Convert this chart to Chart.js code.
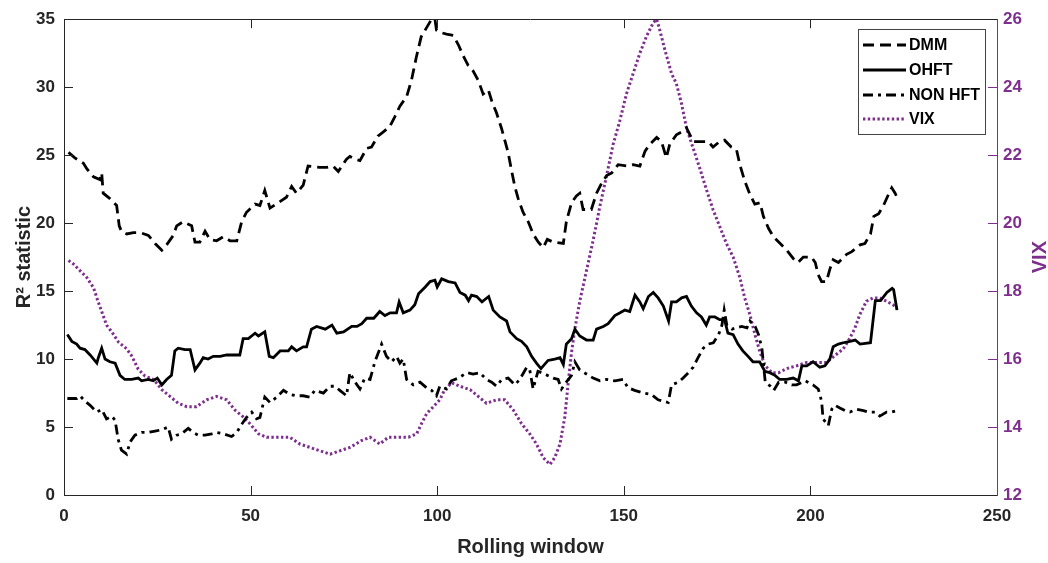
<!DOCTYPE html>
<html><head><meta charset="utf-8">
<script src="https://cdn.jsdelivr.net/npm/chart.js@4.4.1/dist/chart.umd.min.js"></script>
<style>html,body{margin:0;padding:0;background:#fff;overflow:hidden}</style>
</head><body>
<canvas id="c" width="1048" height="563" style="width:1048px;height:563px;display:block"></canvas>
<script>
// ---- tick labels ----
const xTicks = [0, 50, 100, 150, 200, 250];
const leftTicks = [0, 5, 10, 15, 20, 25, 30, 35];
const rightTicks = [12, 14, 16, 18, 20, 22, 24, 26];
const seriesNames = ['DMM', 'OHFT', 'NON HFT', 'VIX'];

// ---- DMM (R^2, left axis) ----
const dmmX = [1.2,2.9,5.2,6.1,7.9,9.6,10.1,10.5,12.3,14.1,14.8,15.4,16.8,18.6,20.4,22.6,24.4,26.2,27.5,29.3,30.2,31.9,34.2,35.1,36.4,37.8,39.1,40.9,42.7,44.5,46.3,47.6,48.9,51.2,52.5,53.8,55.2,57.4,59.6,61.0,62.3,64.1,65.4,68.5,70.4,72.1,73.5,75.7,76.6,78.0,79.3,81.1,82.4,84.1,85.5,87.3,88.6,90.0,91.8,93.1,94.4,95.7,97.2,98.5,99.4,99.8,101.2,102.5,104.3,105.7,107.0,108.3,109.6,111.0,112.3,113.7,114.6,115.9,117.2,118.1,119.0,119.9,120.8,121.7,123.0,124.4,125.7,127.1,128.4,129.5,131.1,133.8,134.6,136.0,137.3,138.2,139.1,141.3,142.7,144.0,145.4,146.8,148.5,150.8,152.5,154.3,155.7,157.0,158.8,160.1,161.4,162.3,164.1,165.4,166.8,168.6,170.4,172.6,173.9,175.7,177.0,178.8,180.2,181.1,182.4,183.8,185.1,186.5,187.4,188.8,190.1,191.9,193.7,195.4,196.7,198.1,200.3,201.3,202.1,203.0,204.3,205.2,206.1,207.5,209.7,211.1,213.3,214.6,216.1,217.0,218.3,219.6,220.9,221.8,222.7,223.2];
const dmmY = [25.2,24.8,24.4,24.0,23.4,23.2,23.7,22.2,21.8,21.3,19.8,19.4,19.2,19.3,19.3,19.1,18.5,18.0,18.4,19.1,19.8,20.1,19.8,18.6,18.6,19.4,18.8,18.7,19.0,18.7,18.7,20.1,20.8,21.4,21.3,22.4,21.1,21.5,21.9,22.7,22.2,22.8,24.2,24.1,24.1,24.2,23.8,24.7,24.9,24.7,24.6,25.5,25.6,26.4,26.7,27.1,27.8,28.6,29.3,30.5,32.2,33.7,34.4,35.0,35.0,34.2,34.0,33.9,33.8,33.1,32.3,31.6,31.2,30.5,29.5,29.8,29.0,28.1,27.0,26.1,25.2,23.9,22.7,21.8,20.8,20.1,19.2,18.6,18.2,18.8,18.6,18.5,20.1,21.5,22.0,22.2,21.0,21.0,22.2,22.9,23.5,23.7,24.3,24.2,24.3,24.2,25.3,25.8,26.3,26.0,24.8,25.8,26.5,26.7,27.0,26.0,26.0,26.0,25.6,26.0,26.1,25.6,25.4,24.3,23.1,22.1,21.4,21.5,20.5,19.6,19.0,18.5,18.0,17.4,17.1,17.5,17.5,17.1,16.2,15.7,15.7,16.6,17.3,17.1,17.7,17.9,18.4,18.5,19.2,20.5,20.7,21.3,22.1,22.6,22.2,21.9];

// ---- OHFT (R^2, left axis) ----
const ohftX = [0.9,2.1,3.4,4.3,5.6,7.0,8.8,9.2,10.1,11.0,12.3,13.7,15.0,16.3,18.1,19.9,20.8,22.6,23.9,25.0,26.2,27.5,28.8,29.7,30.6,32.4,33.8,35.1,36.4,37.3,38.6,40.0,41.8,43.6,45.4,47.1,48.0,49.4,51.2,52.1,53.8,55.0,56.1,57.9,60.1,61.0,62.3,64.1,65.0,66.3,67.7,70.0,71.8,73.1,74.9,77.1,78.5,79.8,81.1,83.0,84.6,86.0,87.4,89.1,89.8,90.9,92.7,94.0,95.0,96.8,98.1,99.4,100.0,101.2,103.0,104.8,106.1,107.5,108.4,109.2,110.6,112.0,113.8,115.0,116.8,118.6,119.5,121.3,122.6,124.0,125.3,126.6,127.8,129.7,131.5,132.9,133.8,134.6,136.0,136.9,138.2,140.0,141.8,142.7,144.5,145.8,147.6,149.0,150.3,151.6,153.0,154.3,155.2,156.6,157.9,159.2,160.6,162.0,162.8,164.1,165.5,166.8,168.1,169.5,170.8,172.1,173.0,174.4,175.7,177.0,177.9,179.3,180.6,181.9,183.3,184.6,186.4,187.8,189.1,190.5,191.8,193.6,195.4,196.8,197.7,199.0,200.7,202.5,203.9,205.2,206.1,207.5,208.8,210.6,212.0,213.3,216.1,217.4,218.8,220.5,221.9,222.3,223.2];
const ohftY = [11.8,11.3,11.1,10.8,10.7,10.3,9.7,10.1,10.8,10.0,9.8,9.7,8.8,8.5,8.5,8.6,8.4,8.5,8.4,8.6,8.1,8.5,8.8,10.6,10.8,10.7,10.7,9.2,9.7,10.1,10.0,10.2,10.2,10.3,10.3,10.3,11.5,11.5,11.9,11.7,12.0,10.2,10.1,10.6,10.6,10.9,10.6,10.9,10.9,12.2,12.4,12.2,12.5,11.9,12.0,12.4,12.4,12.6,13.0,13.0,13.5,13.2,13.4,13.4,14.2,13.4,13.6,14.0,14.8,15.3,15.7,15.8,15.3,15.9,15.7,15.6,14.9,14.7,14.3,14.7,14.6,14.2,14.6,13.6,13.1,12.8,12.0,11.5,11.3,10.9,10.2,9.7,9.3,9.9,10.0,10.1,9.6,11.1,11.5,12.2,11.7,11.4,11.4,12.2,12.4,12.6,13.2,13.4,13.6,13.5,14.7,14.2,13.7,14.6,14.9,14.5,13.9,12.8,14.2,14.2,14.5,14.6,13.9,13.4,13.1,12.5,13.1,13.1,12.9,12.9,11.9,11.8,11.1,10.6,10.2,9.8,9.8,9.1,9.0,8.8,8.5,8.5,8.6,8.4,9.5,9.5,9.8,9.4,9.5,10.0,10.9,11.1,11.2,11.3,11.4,11.1,11.2,14.3,14.3,14.9,15.2,15.1,13.6];

// ---- NON HFT (R^2, left axis) ----
const nonX = [0.9,3.4,4.3,5.6,7.0,8.8,10.1,11.4,12.8,13.7,14.5,15.4,16.8,17.7,19.0,20.8,22.6,24.4,26.2,27.9,28.8,30.2,31.5,33.3,34.6,36.0,37.8,39.6,40.9,42.7,44.9,46.3,47.6,48.9,50.3,51.6,52.5,53.8,55.2,57.0,58.8,60.5,62.3,64.1,65.9,67.2,69.5,71.3,72.6,73.9,75.7,76.6,78.0,79.3,80.6,82.0,83.3,85.1,86.4,87.8,89.1,90.0,90.9,91.8,93.6,95.4,97.1,98.5,99.8,100.7,102.5,103.8,105.7,107.9,109.6,111.4,113.2,114.6,115.9,117.3,119.0,120.8,122.1,124.0,124.8,125.7,127.0,128.8,131.1,132.4,133.3,134.6,136.0,136.9,138.2,140.0,141.8,143.6,145.4,147.6,149.8,151.1,152.9,155.2,157.4,159.2,161.9,162.8,164.6,165.9,167.3,168.6,169.9,171.3,172.6,174.0,175.4,176.3,176.9,177.6,179.0,180.2,181.6,183.0,183.8,185.2,186.1,187.0,187.9,189.3,190.2,191.5,193.3,195.0,196.3,198.6,200.7,202.1,203.0,203.4,204.8,205.7,206.6,207.9,209.3,210.6,212.4,214.2,215.5,217.3,218.6,220.4,221.8,223.2];
const nonY = [7.1,7.1,7.3,6.9,6.6,6.1,6.3,5.6,5.8,5.5,4.1,3.3,3.0,3.9,4.4,4.6,4.6,4.7,4.8,5.0,4.1,4.4,4.5,4.9,4.6,4.4,4.4,4.5,4.6,4.5,4.3,4.6,5.2,5.7,6.1,5.6,5.7,7.2,6.8,7.2,7.7,7.4,7.3,7.3,7.2,7.7,7.5,8.0,8.0,7.7,7.3,9.0,8.3,7.8,8.6,8.5,9.8,11.1,10.2,9.8,10.2,9.7,10.0,8.5,8.1,8.3,7.9,7.7,7.3,8.0,7.8,8.4,8.6,9.0,8.9,9.0,8.5,8.3,8.0,8.5,8.6,8.1,8.5,9.4,9.2,7.8,9.1,8.9,8.6,8.5,7.8,8.3,8.8,9.8,9.2,8.9,8.6,8.4,8.5,8.4,8.5,7.9,7.7,7.5,7.4,7.0,6.8,8.1,8.3,8.6,9.0,9.4,10.1,10.8,11.1,11.2,11.8,12.5,13.6,12.5,12.2,12.3,12.4,12.3,12.8,12.4,11.8,10.8,8.3,8.0,7.7,8.3,8.3,8.1,8.1,8.4,8.1,7.8,6.9,5.6,5.1,6.3,6.6,6.4,6.2,6.1,6.3,6.2,6.1,6.1,5.8,6.1,6.1,6.2];

// ---- VIX (right axis) ----
const vixX = [1.2,2.5,4.3,6.1,7.9,8.8,10.1,11.4,12.8,14.6,16.8,18.1,19.9,21.7,24.0,26.2,28.4,30.6,32.9,35.5,38.2,40.9,43.6,45.8,48.0,49.8,52.1,54.3,57.9,60.5,63.2,65.9,68.6,71.3,73.9,76.6,79.7,82.0,84.6,86.9,89.6,92.3,94.5,95.8,97.2,99.0,100.7,102.0,103.9,106.1,108.8,111.0,113.2,115.9,118.1,120.4,122.6,124.8,126.6,128.4,130.2,131.5,132.9,134.2,135.1,136.0,136.9,138.2,140.0,141.8,143.6,145.4,147.1,148.9,150.7,152.5,154.3,156.1,157.9,158.8,159.6,161.0,162.8,164.1,165.5,166.8,168.6,170.4,172.1,173.9,175.7,177.5,179.3,181.1,182.4,183.8,185.2,186.5,187.9,189.7,191.5,193.3,194.5,196.3,199.0,201.6,204.3,206.5,208.8,210.5,211.9,213.2,215.0,216.8,218.6,220.4,222.1,223.2];
const vixY = [18.9,18.8,18.6,18.4,18.1,17.8,17.4,17.0,16.8,16.5,16.3,16.1,15.7,15.5,15.4,15.1,14.9,14.7,14.6,14.6,14.8,14.9,14.8,14.5,14.3,14.1,13.8,13.7,13.7,13.7,13.5,13.4,13.3,13.2,13.3,13.4,13.6,13.7,13.5,13.7,13.7,13.7,13.8,14.1,14.4,14.6,14.8,15.1,15.3,15.2,15.1,14.9,14.7,14.8,14.8,14.5,14.1,13.8,13.5,13.1,12.9,13.1,13.5,14.3,15.3,16.2,16.9,17.7,18.6,19.5,20.5,21.4,22.3,23.0,23.8,24.4,25.0,25.5,25.9,26.0,25.7,25.1,24.4,24.1,23.5,22.8,22.2,21.6,21.0,20.4,19.9,19.4,19.0,18.4,17.8,17.3,16.7,16.2,15.8,15.6,15.6,15.7,15.75,15.8,15.9,15.9,15.9,16.1,16.3,16.6,16.9,17.3,17.7,17.8,17.8,17.7,17.6,17.5];

const pts = (xs, ys) => xs.map((x, i) => ({x: x, y: ys[i]}));

const FONT = "'Liberation Sans', Arial, Helvetica, sans-serif";
const AX = '#262626';
const PURPLE = '#7E2F8E';
Chart.defaults.font.family = FONT;

const styles = [
  {color: '#000', dash: [11, 6], width: 2.8},
  {color: '#000', dash: [], width: 2.8},
  {color: '#000', dash: [10, 5, 3, 5], width: 2.8},
  {color: PURPLE, dash: [2.4, 2.4], width: 3}
];

const decor = {
  id: 'decor',
  afterDraw(chart) {
    const {ctx, chartArea: a, scales} = chart;
    const TL = 9;
    ctx.save();
    ctx.lineWidth = 1;
    ctx.strokeStyle = AX;
    ctx.beginPath();
    ctx.moveTo(a.left, Math.round(a.top) + 0.5);
    ctx.lineTo(a.right, Math.round(a.top) + 0.5);
    xTicks.slice(1, -1).forEach(v => {
      const px = Math.round(scales.x.getPixelForValue(v)) + 0.5;
      ctx.moveTo(px, a.bottom); ctx.lineTo(px, a.bottom - TL);
      ctx.moveTo(px, a.top); ctx.lineTo(px, a.top + TL);
    });
    leftTicks.slice(1, -1).forEach(v => {
      const py = Math.round(scales.y.getPixelForValue(v)) + 0.5;
      ctx.moveTo(a.left, py); ctx.lineTo(a.left + TL, py);
    });
    ctx.stroke();
    ctx.strokeStyle = PURPLE;
    ctx.beginPath();
    rightTicks.slice(1, -1).forEach(v => {
      const py = Math.round(scales.y2.getPixelForValue(v)) + 0.5;
      ctx.moveTo(a.right, py); ctx.lineTo(a.right - TL, py);
    });
    ctx.stroke();

    // right axis title, reading bottom-to-top
    ctx.save();
    ctx.translate(1040, (a.top + a.bottom) / 2);
    ctx.rotate(-Math.PI / 2);
    ctx.fillStyle = PURPLE;
    ctx.font = 'bold 20px ' + FONT;
    ctx.textAlign = 'center';
    ctx.textBaseline = 'middle';
    ctx.fillText('VIX', 0, 0);
    ctx.restore();

    // legend
    const bx = 858.5, by = 29.5, bw = 127, bh = 105;
    ctx.fillStyle = '#fff';
    ctx.fillRect(bx, by, bw, bh);
    ctx.strokeStyle = '#444';
    ctx.lineWidth = 1;
    ctx.strokeRect(bx, by, bw, bh);
    const rows = [45, 70, 95, 119];
    ctx.font = 'bold 16px ' + FONT;
    ctx.textAlign = 'left';
    ctx.textBaseline = 'middle';
    seriesNames.forEach((name, i) => {
      const s = styles[i];
      ctx.beginPath();
      ctx.strokeStyle = s.color;
      ctx.lineWidth = s.width;
      ctx.setLineDash(s.dash);
      ctx.moveTo(863, rows[i]);
      ctx.lineTo(906, rows[i]);
      ctx.stroke();
      ctx.setLineDash([]);
      ctx.fillStyle = '#000';
      ctx.fillText(name, 909, rows[i] + 1);
    });
    ctx.restore();
  }
};

const datasets = [
  pts(dmmX, dmmY), pts(ohftX, ohftY), pts(nonX, nonY), pts(vixX, vixY)
].map((d, i) => ({
  label: seriesNames[i],
  data: d,
  borderColor: styles[i].color,
  borderWidth: styles[i].width,
  borderDash: styles[i].dash,
  pointRadius: 0,
  tension: 0,
  fill: false,
  yAxisID: i === 3 ? 'y2' : 'y'
}));

new Chart(document.getElementById('c'), {
  type: 'line',
  data: {datasets},
  options: {
    responsive: false,
    animation: false,
    devicePixelRatio: 1,
    parsing: true,
    layout: {padding: {top: 15, left: 0, right: 0, bottom: 0}},
    plugins: {legend: {display: false}, tooltip: {enabled: false}},
    scales: {
      x: {
        type: 'linear', min: 0, max: 250,
        afterBuildTicks: s => { s.ticks = xTicks.map(v => ({value: v})); },
        ticks: {font: {size: 17, weight: 'bold'}, color: AX, padding: 11, maxRotation: 0, autoSkip: false},
        grid: {display: false, drawTicks: false},
        border: {display: true, color: AX, width: 1},
        title: {display: true, text: 'Rolling window', color: AX, font: {size: 20, weight: 'bold'}, padding: {top: 0, bottom: 4}},
        afterFit: s => { s.height = 68; }
      },
      y: {
        type: 'linear', position: 'left', min: 0, max: 35,
        afterBuildTicks: s => { s.ticks = leftTicks.map(v => ({value: v})); },
        ticks: {font: {size: 17, weight: 'bold'}, color: AX, padding: 9, autoSkip: false},
        grid: {display: false, drawTicks: false},
        border: {display: true, color: AX, width: 1},
        title: {display: true, text: 'R² statistic', color: AX, font: {size: 20, weight: 'bold'}, padding: {top: 12, bottom: 0}},
        afterFit: s => { s.width = 64; }
      },
      y2: {
        type: 'linear', position: 'right', min: 12, max: 26,
        afterBuildTicks: s => { s.ticks = rightTicks.map(v => ({value: v})); },
        ticks: {font: {size: 17, weight: 'bold'}, color: PURPLE, padding: 6, autoSkip: false},
        grid: {display: false, drawTicks: false},
        border: {display: true, color: PURPLE, width: 1},
        title: {display: false},
        afterFit: s => { s.width = 51; }
      }
    }
  },
  plugins: [decor]
});
</script>
</body></html>
